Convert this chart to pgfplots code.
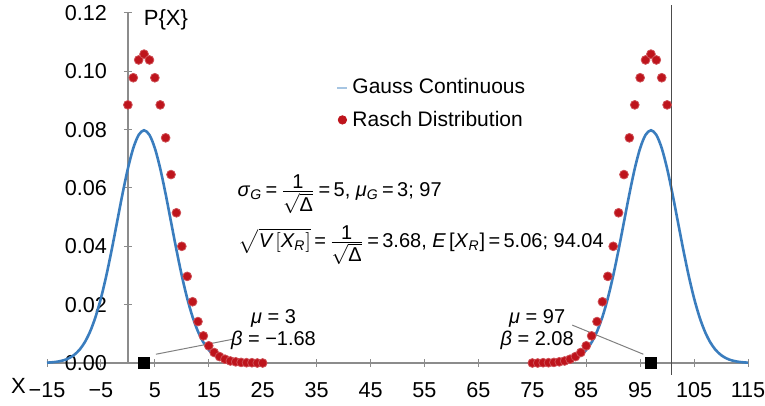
\documentclass[border=0pt]{standalone}
\usepackage{amsmath}
\usepackage{fontspec}
\setmainfont{Liberation Sans}
\usepackage{pgfplots}
\pgfplotsset{compat=1.18}

\definecolor{gaussblue}{HTML}{3A7DBE}
\definecolor{raschred}{HTML}{BE141C}
\definecolor{axgray}{HTML}{8C8C8C}

% compact fraction with full-size numerator and denominator
\newcommand{\fr}[2]{$\frac{\mbox{#1}}{\mbox{#2}}$}

\begin{document}
\begin{tikzpicture}
\begin{axis}[
    scale only axis,
    width=350.5bp, height=175bp,
    xmin=-15, xmax=115, ymin=0, ymax=0.12,
    axis lines=middle,
    axis line style={axgray, line width=0.7bp, -},
    hide obscured x ticks=false, hide obscured y ticks=false,
    clip=false,
    unbounded coords=jump,
    font=\fontsize{10.8bp}{12bp}\selectfont,
    xtick={-15,-5,5,15,25,35,45,55,65,75,85,95,105,115},
    xticklabels={−15,−5,5,15,25,35,45,55,65,75,85,95,105,115},
    ytick={0,0.02,0.04,0.06,0.08,0.10,0.12},
    yticklabels={0.00,0.02,0.04,0.06,0.08,0.10,0.12},
    tick style={axgray, line width=0.5bp},
    major tick length=4bp,
    xticklabel style={yshift=-4.2bp},
    yticklabel style={xshift=-5bp},
    legend style={at={(axis cs:38.6,0.0990)}, anchor=north west, draw=none, fill=none,
        font=\fontsize{10.5bp}{12bp}\selectfont, row sep=3bp, inner sep=0pt},
    legend cell align=left,
]
% Gauss continuous, sigma=5, mu=3 and 97
\addplot[gaussblue, line width=1.3bp, smooth,
    legend image code/.code={\draw[gaussblue!45!white, line width=1bp] (0bp,0bp) -- (5bp,0bp);}]
coordinates {
(-15,0.00012) (-14,0.00025) (-13,0.00048) (-12,0.00089) (-11,0.00158) (-10,0.00272)
(-9,0.00448) (-8,0.00709) (-7,0.01080) (-6,0.01579) (-5,0.02218) (-4,0.02995)
(-3,0.03884) (-2,0.04839) (-1,0.05794) (0,0.06665) (1,0.07366) (2,0.07821)
(3,0.07979) (4,0.07821) (5,0.07366) (6,0.06665) (7,0.05794) (8,0.04839)
(9,0.03884) (10,0.02995) (11,0.02218) (12,0.01579) (13,0.01080) (14,0.00709)
(15,0.00448) (16,0.00272) (17,0.00158) (18,0.00089) (19,0.00048) (20,0.00025) (21,0.00012)
(50,nan)
(79,0.00012) (80,0.00025) (81,0.00048) (82,0.00089) (83,0.00158) (84,0.00272)
(85,0.00448) (86,0.00709) (87,0.01080) (88,0.01579) (89,0.02218) (90,0.02995)
(91,0.03884) (92,0.04839) (93,0.05794) (94,0.06665) (95,0.07366) (96,0.07821)
(97,0.07979) (98,0.07821) (99,0.07366) (100,0.06665) (101,0.05794) (102,0.04839)
(103,0.03884) (104,0.02995) (105,0.02218) (106,0.01579) (107,0.01080) (108,0.00709)
(109,0.00448) (110,0.00272) (111,0.00158) (112,0.00089) (113,0.00048) (114,0.00025) (115,0.00012)
};
\addlegendentry{Gauss Continuous}
% Rasch distribution
\addplot[only marks, mark=*, mark size=2.2bp, mark options={fill=raschred, draw=raschred!75!white, line width=0.4bp},
    legend image code/.code={\fill[raschred] (2.5bp,0bp) circle (2.1bp);}]
coordinates {
(0,0.0885) (1,0.0978) (2,0.1039) (3,0.1059) (4,0.1039) (5,0.0978) (6,0.0885)
(7,0.0772) (8,0.0646) (9,0.0515) (10,0.0400) (11,0.0297) (12,0.0210) (13,0.0142)
(14,0.0093) (15,0.0059) (16,0.0036) (17,0.0022) (18,0.0013) (19,0.0007) (20,0.0004)
(21,0.0002) (22,0.0001) (23,0.0001) (24,0.0000) (25,0.0000)
(75,0.0000) (76,0.0000) (77,0.0001) (78,0.0001) (79,0.0002) (80,0.0004) (81,0.0007)
(82,0.0013) (83,0.0022) (84,0.0036) (85,0.0059) (86,0.0093) (87,0.0142) (88,0.0210)
(89,0.0297) (90,0.0400) (91,0.0515) (92,0.0646) (93,0.0772) (94,0.0885) (95,0.0978)
(96,0.1039) (97,0.1059) (98,0.1039) (99,0.0978) (100,0.0885)
};
\addlegendentry{Rasch Distribution}
% vertical reference line
\addplot[forget plot, black!70, line width=0.6bp] coordinates {(100.8,-0.004) (100.8,0.1228)};
% mean markers
\addplot[forget plot, only marks, mark=square*, mark size=2.6bp, black] coordinates {(3,0) (97,0)};

\draw[gray, line width=0.5bp] (axis cs:5.2,0.003) -- (axis cs:19.6,0.0082);
\draw[gray, line width=0.5bp] (axis cs:82.4,0.013) -- (axis cs:95.6,0.003);

\node[align=center, font=\fontsize{10bp}{11bp}\selectfont] at (axis cs:27,0.0113)
    {\textit{μ} = 3\\\textit{β} = −1.68};
\node[align=center, font=\fontsize{10bp}{11bp}\selectfont] at (axis cs:75.9,0.0113)
    {\textit{μ} = 97\\\textit{β} = 2.08};

\node[anchor=west, inner sep=0pt, font=\fontsize{10bp}{12bp}\selectfont] at (axis cs:20.3,0.0578)
    {\textit{σ}$_{\textit{G}}$\,=\,\fr{1}{$\sqrt{\text{Δ}}$}\,=\,5, \textit{μ}$_{\textit{G}}$\,=\,3; 97};
\node[anchor=west, inner sep=0pt, font=\fontsize{10bp}{12bp}\selectfont] at (axis cs:20.5,0.0405)
    {$\sqrt{\text{\itshape V\,}[\text{\itshape X}_{\text{\itshape R}}]}$\,=\,\fr{1}{$\sqrt{\text{Δ}}$}\,=\,3.68, \textit{E\,}[\textit{X}$_{\textit{R}}$]\,=\,5.06; 94.04};

\node[anchor=west, inner sep=0pt, font=\fontsize{11bp}{12bp}\selectfont] at (axis cs:2.9,0.1177) {P\{X\}};
\node[inner sep=0pt, font=\fontsize{11bp}{12bp}\selectfont] at (axis cs:-20.3,-0.0079) {X};
\end{axis}
\pgfresetboundingbox
\path[use as bounding box] (-23.5bp,-21.5bp) rectangle (359bp,181.5bp);
\end{tikzpicture}
\end{document}
